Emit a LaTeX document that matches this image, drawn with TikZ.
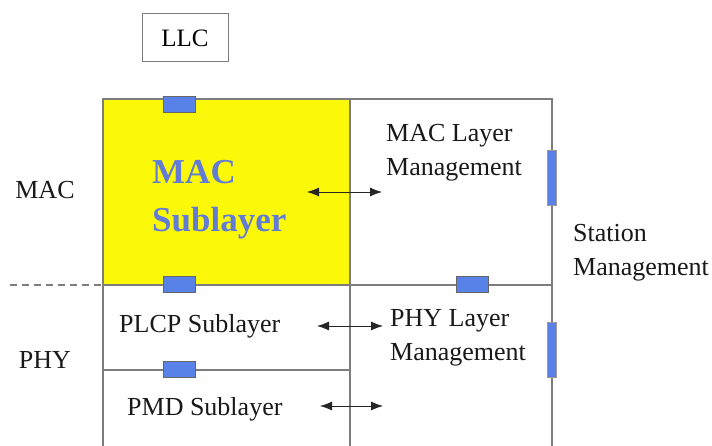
\documentclass[tikz,border=0pt]{standalone}
\usepackage{fontspec}
\setmainfont{Liberation Serif}
\usetikzlibrary{positioning,arrows.meta}

\definecolor{macyellow}{RGB}{252,248,10}
\definecolor{portblue}{RGB}{88,130,232}
\definecolor{subblue}{RGB}{98,124,214}
\definecolor{linegray}{RGB}{125,125,125}

\tikzset{
  lbl/.style={font=\fontsize{26}{34}\selectfont, align=left, inner sep=0pt, text=black!90},
  hport/.style={draw=black!60, fill=portblue, line width=0.8pt, minimum width=32pt, minimum height=16pt, inner sep=0pt},
  vport/.style={draw=black!40, fill=portblue, line width=0.6pt, minimum width=9pt, minimum height=55pt, inner sep=0pt},
  frame/.style={draw=linegray, line width=1.4pt},
  twoway/.style={{Latex[length=12pt,width=9pt]}-{Latex[length=12pt,width=9pt]}, line width=0.8pt, black!85}
}

\begin{document}
\begin{tikzpicture}[x=1pt,y=-1pt]
  \useasboundingbox (0,0) rectangle (712,446);
  \fill[white] (0,0) rectangle (712,446);

  % layer boxes
  \fill[macyellow] (103,99) rectangle (350,285);
  \draw[frame] (103,446) -- (103,99) -- (552,99) -- (552,446);
  \draw[frame] (350,99) -- (350,446);
  \draw[frame] (103,285) -- (552,285);
  \draw[frame] (103,370) -- (350,370);
  \draw[frame, dashed, dash pattern=on 7pt off 5pt] (10,285) -- (103,285);

  % LLC on top
  \node[draw=linegray, line width=1pt, minimum width=86pt, minimum height=48pt,
        font=\fontsize{25}{30}\selectfont] (llc) at (185,38) {LLC};

  % side labels
  \node[lbl] (mac) at (45,190) {MAC};
  \node[lbl] (phy) at (45,360) {PHY};

  % sublayers
  \node[font=\fontsize{35}{48}\selectfont\bfseries, text=subblue, align=left,
        inner sep=0pt, anchor=west] (macsub) at (152,200) {MAC\\Sublayer};
  \node[lbl, anchor=west] (plcp) at (119,326) {PLCP Sublayer};
  \node[lbl, anchor=west] (pmd) at (127,409) {PMD Sublayer};

  % management
  \node[lbl, anchor=west] (maclm) at (386,153) {MAC Layer\\Management};
  \node[lbl, anchor=west] (phylm) at (390,338) {PHY Layer\\Management};
  \node[lbl, anchor=west] (station) at (573,253) {Station\\Management};

  % service access points
  \node[hport] (llcsap) at (179,104) {};
  \node[hport] (physap) at (179,284) {};
  \node[hport] (mlmesap) at (472,284) {};
  \node[hport] (pmdsap) at (179,369) {};
  \node[vport] (smemac) at (552,178) {};
  \node[vport] (smephy) at (552,350) {};

  % management arrows
  \coordinate (a1) at (307,192);
  \coordinate (b1) at (382,192);
  \coordinate (a2) at (317,326);
  \coordinate (b2) at (383,326);
  \coordinate (a3) at (320,406);
  \coordinate (b3) at (383,406);
  \draw[twoway] (a1) -- (b1);
  \draw[twoway] (a2) -- (b2);
  \draw[twoway] (a3) -- (b3);
\end{tikzpicture}
\end{document}
